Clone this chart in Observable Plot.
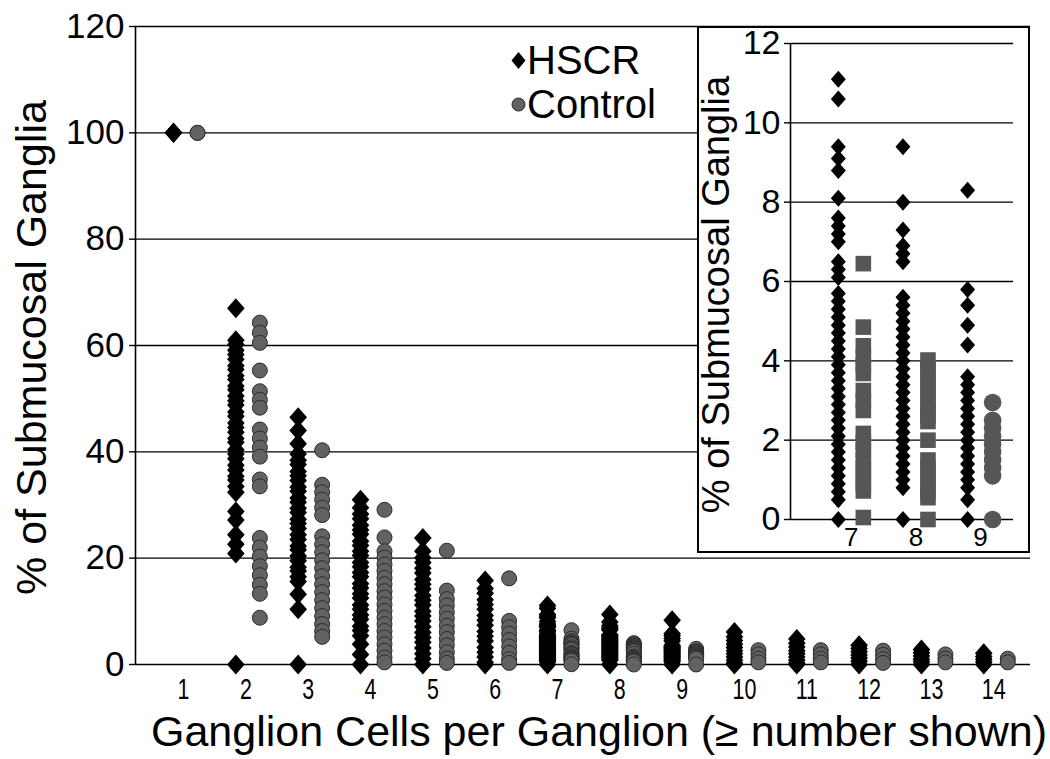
<!DOCTYPE html>
<html>
<head>
<meta charset="utf-8">
<script src="https://cdn.jsdelivr.net/npm/d3@7"></script>
<script src="https://cdn.jsdelivr.net/npm/@observablehq/plot@0.6"></script>
<style>
  html, body { margin:0; padding:0; background:#fff; }
  #wrap { position:relative; width:1050px; height:759px; overflow:hidden; font-family:"Liberation Sans", Arial, sans-serif; }
  #main { position:absolute; left:0; top:0; }
  #inset { position:absolute; left:697px; top:26px; width:333px; height:527px; border:2px solid #000; box-sizing:border-box; background:#fff; }
  #inset svg { display:block; }
  .lg { position:absolute; font-size:40px; line-height:40px; color:#000; white-space:nowrap; }
  .lgsym { position:absolute; }
</style>
</head>
<body>
<div id="wrap">
  <div id="main"></div>
  <div id="inset"></div>
  <div id="legend"></div>
</div>
<script>
// ---------------- DATA ----------------
const categories = [1, 2, 3, 4, 5, 6, 7, 8, 9, 10, 11, 12, 13, 14];
const seriesNames = ["HSCR", "Control"];
const yTicks = [0, 20, 40, 60, 80, 100, 120];
const xTitle = "Ganglion Cells per Ganglion (\u2265 number shown)";
const yTitle = "% of Submucosal Ganglia";

// HSCR (% of submucosal ganglia with >= n ganglion cells), one array per category
const hscr1 = [100, 100, 100];
const hscr2 = [67, 61, 60.2, 59.1, 58.3, 57.4, 56.2, 55.5, 54.3, 53.6, 52.4, 51.7, 50.5, 49.6, 48.8, 47.5, 46.7, 45.4, 44.6, 43.7, 42.5, 41.8, 40.4, 39.6, 38.7, 37.5, 36.6, 35.4, 34.7, 33.5, 32.4, 28.8, 27.2, 24.4, 22.6, 20.9, 0];
const hscr3 = [46.5, 44, 41.5, 39.6, 38.4, 37.6, 36.3, 35.5, 34.6, 33.4, 32.6, 31.3, 30.5, 29.4, 28.6, 27.3, 26.5, 25.6, 24.4, 23.5, 22.3, 21.6, 20.4, 19.5, 18.3, 17.6, 16.5, 15.6, 13.2, 10.4, 0];
const hscr4 = [31, 29.5, 28.3, 27.4, 26.2, 25.3, 24.5, 23.2, 22.4, 21.3, 20.5, 19.2, 18.4, 17.3, 16.5, 15.2, 14.4, 13.3, 12.5, 11.2, 10.4, 9.3, 8.5, 7.2, 6.4, 5.4, 3.8, 1.9, 0];
const hscr5 = [23.8, 21.3, 20.1, 19.2, 18.1, 17.2, 16, 15.1, 14.2, 13, 12.1, 11.2, 10, 9.1, 8.2, 7.1, 6, 5.1, 4.2, 3.1, 2, 1.1, 0];
const hscr6 = [15.8, 14.3, 13.4, 12.2, 11.3, 10.4, 9.2, 8.3, 7.4, 6.2, 5.3, 4.4, 3.2, 2.3, 1.4, 0.4, 0];
const hscr7 = [11.1, 10.6, 9.4, 9.1, 8.8, 8.1, 7.6, 7.4, 7.2, 7.0, 6.5, 6.3, 6.1, 5.7, 5.5, 5.3, 5.1, 4.9, 4.7, 4.5, 4.3, 4.1, 3.9, 3.7, 3.5, 3.3, 3.1, 2.9, 2.7, 2.5, 2.3, 2.1, 1.9, 1.7, 1.5, 1.3, 1.1, 0.9, 0.7, 0.5, 0];
const hscr8 = [9.4, 8.0, 7.3, 6.9, 6.7, 6.5, 5.6, 5.4, 5.2, 5.0, 4.8, 4.6, 4.4, 4.2, 4.0, 3.8, 3.6, 3.4, 3.2, 3.0, 2.8, 2.6, 2.4, 2.2, 2.0, 1.8, 1.6, 1.4, 1.2, 1.0, 0.8, 0];
const hscr9 = [8.3, 5.8, 5.4, 4.9, 4.4, 3.6, 3.4, 3.2, 3.0, 2.8, 2.6, 2.4, 2.2, 2.0, 1.8, 1.6, 1.4, 1.2, 1.0, 0.8, 0.5, 0];
const hscr10 = [6.1, 5.2, 4.5, 3.8, 3.2, 2.6, 2.0, 1.4, 0.8, 0.3, 0];
const hscr11 = [4.8, 4.0, 3.3, 2.6, 2.0, 1.4, 0.8, 0.3, 0];
const hscr12 = [3.6, 3.0, 2.4, 1.8, 1.2, 0.6, 0];
const hscr13 = [2.8, 2.2, 1.6, 1.0, 0.5, 0];
const hscr14 = [2.1, 1.5, 1.0, 0.5, 0];

// Control
const ctrl1 = [100, 100];
const ctrl2 = [64.3, 62.4, 60.5, 55.3, 51.4, 49.8, 48.3, 44.2, 42.5, 40.8, 39.1, 34.8, 33.5, 23.8, 22, 20.3, 18.5, 16.8, 15, 13.3, 8.8];
const ctrl3 = [40.3, 33.8, 32.4, 31, 29.5, 28.1, 24.1, 22.6, 21.1, 19.6, 18.1, 16.6, 15.1, 13.6, 12.1, 10.6, 9.1, 7.6, 6.3, 5.2];
const ctrl4 = [29.1, 23.9, 21.3, 20.1, 18.8, 17.6, 16.3, 15.1, 13.8, 12.6, 11.3, 10.1, 8.8, 7.6, 6.3, 5.1, 3.8, 2.6, 1.3, 0.4];
const ctrl5 = [21.4, 13.9, 12.3, 11.1, 9.8, 8.6, 7.3, 6.1, 4.8, 3.6, 2.3, 1.1, 0.3];
const ctrl6 = [16.2, 8.2, 7, 5.8, 4.6, 3.4, 2.2, 1, 0.3];
const ctrl7 = [6.45, 4.85, 4.38, 4.1, 3.9, 3.68, 3.25, 3.0, 2.75, 2.17, 1.95, 1.75, 1.5, 1.3, 1.1, 0.9, 0.72, 0.05];
const ctrl8 = [4.02, 3.8, 3.6, 3.4, 3.2, 3.0, 2.8, 2.6, 2.47, 2.0, 1.5, 1.3, 1.1, 0.9, 0.7, 0.55, 0];
const ctrl9 = [2.95, 2.5, 2.3, 2.1, 1.9, 1.7, 1.5, 1.3, 1.1, 0];
const ctrl10 = [2.7, 1.9, 1.1, 0.4];
const ctrl11 = [2.7, 1.9, 1.1, 0.4];
const ctrl12 = [2.6, 1.8, 1.0, 0.3];
const ctrl13 = [1.9, 1.1, 0.4];
const ctrl14 = [1.1, 0.4];

// Inset (categories 7-9 enlarged)
const insetCategories = [7, 8, 9];
const insetYTicks = [0, 2, 4, 6, 8, 10, 12];
const insetControlSymbols = ["square", "square", "circle"];

// ---------------- BUILD TABLES ----------------
const hscrSeries = [hscr1, hscr2, hscr3, hscr4, hscr5, hscr6, hscr7, hscr8, hscr9, hscr10, hscr11, hscr12, hscr13, hscr14];
const ctrlSeries = [ctrl1, ctrl2, ctrl3, ctrl4, ctrl5, ctrl6, ctrl7, ctrl8, ctrl9, ctrl10, ctrl11, ctrl12, ctrl13, ctrl14];
const hscrRows = [], ctrlRows = [];
categories.forEach((c, i) => {
  hscrSeries[i].forEach(v => hscrRows.push({cat: c, group: seriesNames[0], value: v}));
  ctrlSeries[i].forEach(v => ctrlRows.push({cat: c, group: seriesNames[1], value: v}));
});
const insetH = hscrRows.filter(d => insetCategories.includes(d.cat));
const insetC = ctrlRows.filter(d => insetCategories.includes(d.cat))
  .map(d => ({...d, sym: insetControlSymbols[insetCategories.indexOf(d.cat)]}));

// custom diamond (rotated square, slightly taller than wide)
const diamond = {
  draw(ctx, size) {
    const r = Math.sqrt(size / Math.PI), w = r * 0.88;
    ctx.moveTo(0, -r); ctx.lineTo(w, 0); ctx.lineTo(0, r); ctx.lineTo(-w, 0); ctx.closePath();
  }
};

const FONT = "'Liberation Sans', Arial, sans-serif";
const ctrlFill = "#626262", ctrlStroke = "#2b2b2b";

// ---------------- MAIN CHART ----------------
const xDomain = [0.39, 14.75];
const main = Plot.plot({
  width: 1050, height: 759,
  marginLeft: 135, marginRight: 20, marginTop: 26, marginBottom: 95,
  style: {fontFamily: FONT, background: "transparent", overflow: "visible", color: "#000"},
  x: {domain: xDomain},
  y: {domain: [0, 120]},
  marks: [
    Plot.ruleY(yTicks, {stroke: "#000", strokeWidth: 1.4}),
    Plot.ruleX([xDomain[0]], {stroke: "#000", strokeWidth: 1.6}),
    Plot.axisY({ticks: yTicks, tickSize: 6, tickPadding: 5, fontSize: 35, fontFamily: FONT, label: null, stroke: "#000", strokeWidth: 1.4}),
    Plot.axisX({ticks: categories, tickSize: 0, tickPadding: 14, fontSize: 29, fontFamily: FONT, dx: 10, label: null, tickFormat: d => String(d)}),
    Plot.dot(ctrlRows, {x: "cat", y: "value", dx: 24, r: 7.5, symbol: "circle", fill: ctrlFill, stroke: ctrlStroke, strokeWidth: 1}),
    Plot.dot(hscrRows, {x: "cat", y: "value", r: 10, symbol: diamond, fill: "#000", stroke: "none"}),
    Plot.text([xTitle], {frameAnchor: "bottom", text: d => d, textAnchor: "middle", dx: 16, dy: 81, fontSize: 43, fontFamily: FONT, fill: "#000"}),
    Plot.text([yTitle], {frameAnchor: "left", text: d => d, textAnchor: "middle", rotate: -90, dx: -103, dy: 2, fontSize: 43, fontFamily: FONT, fill: "#000"})
  ]
});
document.getElementById("main").appendChild(main);

// condense the x tick labels like the original (narrow digits)
main.querySelectorAll('g[aria-label="x-axis tick label"] text').forEach(t => {
  const len = t.getComputedTextLength();
  t.setAttribute("textLength", (len * 0.74).toFixed(1));
  t.setAttribute("lengthAdjust", "spacingAndGlyphs");
});

// ---------------- INSET ----------------
const insetXDomain = [6.26, 9.71];
const inset = Plot.plot({
  width: 329, height: 523,
  marginLeft: 91, marginRight: 15, marginTop: 15, marginBottom: 32,
  style: {fontFamily: FONT, background: "#fff", overflow: "visible", color: "#000"},
  x: {domain: insetXDomain},
  y: {domain: [0, 12]},
  marks: [
    Plot.ruleY(insetYTicks, {stroke: "#000", strokeWidth: 1.4}),
    Plot.ruleX([insetXDomain[0]], {stroke: "#000", strokeWidth: 1.6}),
    Plot.axisY({ticks: insetYTicks, tickSize: 6, tickPadding: 4, fontSize: 34, fontFamily: FONT, label: null, stroke: "#000", strokeWidth: 1.4}),
    Plot.axisX({ticks: insetCategories, tickSize: 0, tickPadding: 8, fontSize: 26, fontFamily: FONT, dx: 13, label: null, tickFormat: d => String(d)}),
    Plot.dot(insetC, {x: "cat", y: "value", dx: 25, r: 8.8, symbol: "sym", fill: "#565656", stroke: "none"}),
    Plot.dot(insetH, {x: "cat", y: "value", r: 8.5, symbol: diamond, fill: "#000", stroke: "none"}),
    Plot.text([yTitle], {frameAnchor: "left", text: d => d, textAnchor: "middle", rotate: -90, dx: -74, dy: 13, fontSize: 38, fontFamily: FONT, fill: "#000"})
  ]
});
document.getElementById("inset").appendChild(inset);

// ---------------- LEGEND ----------------
const legend = document.getElementById("legend");
const legendItems = [
  {name: seriesNames[0], top: 40, sym: '<svg class="lgsym" style="left:510px;top:52px" width="17" height="17"><path d="M8.5 0L15.5 8.5L8.5 17L1.5 8.5Z" fill="#000"/></svg>'},
  {name: seriesNames[1], top: 84, sym: '<svg class="lgsym" style="left:511px;top:97px" width="15" height="15"><circle cx="7.5" cy="7.5" r="6.5" fill="' + ctrlFill + '" stroke="' + ctrlStroke + '"/></svg>'}
];
legendItems.forEach(it => {
  legend.insertAdjacentHTML("beforeend", it.sym + '<div class="lg" style="left:527px;top:' + it.top + 'px">' + it.name + '</div>');
});
</script>
</body>
</html>
